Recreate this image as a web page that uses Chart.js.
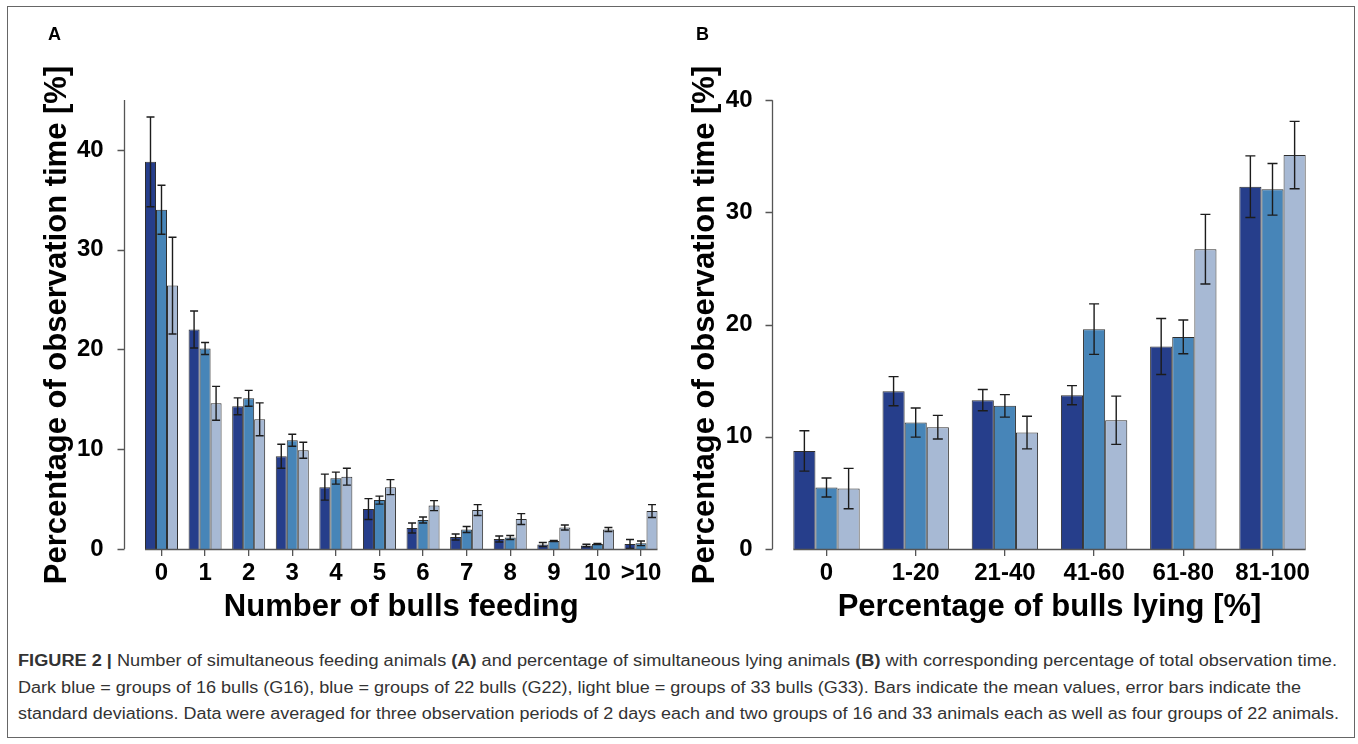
<!DOCTYPE html>
<html>
<head>
<meta charset="utf-8">
<title>Feeding and lying behaviour of bull groups</title>
<script src="https://cdn.jsdelivr.net/npm/chart.js@4.4.1/dist/chart.umd.min.js"></script>
<style>
  html, body { margin: 0; padding: 0; background: #fff; }
  body { width: 1358px; height: 744px; position: relative; overflow: hidden;
         font-family: "Liberation Sans", Arial, sans-serif; }
  .frame { position: absolute; left: 7px; top: 6px; width: 1348px; height: 732px;
           border: 1.5px solid #666; box-sizing: border-box; }
  canvas { position: absolute; top: 0; }
  #chartA { left: 0; }
  #chartB { left: 680px; }
  .tag { position: absolute; font: bold 18px/18px "Liberation Sans", Arial, sans-serif; color: #000; }
  .ytitle { position: absolute; font: bold 31px/31px "Liberation Sans", Arial, sans-serif; color: #000;
            white-space: nowrap; transform: translate(-50%, -50%) rotate(-90deg); }
  .caption { position: absolute; left: 18px; top: 648px; color: #333;
             font-family: "Liberation Sans Narrow", "Liberation Sans", Arial, sans-serif; font-size: 16px; }
  .cap-line { display: block; height: 26.5px; line-height: 26px; }
  .cap-line span { display: inline-block; white-space: nowrap; transform-origin: 0 50%; }
</style>
</head>
<body>
<div class="frame"></div>
<canvas id="chartA" width="680" height="640"></canvas>
<canvas id="chartB" width="678" height="640"></canvas>
<div class="tag" style="left:48px; top:25px;">A</div>
<div class="tag" style="left:696px; top:25px;">B</div>
<div class="ytitle" style="left:55px; top:324.5px;">Percentage of observation time [%]</div>
<div class="ytitle" style="left:702.5px; top:324.5px;">Percentage of observation time [%]</div>
<div class="caption">
  <div class="cap-line"><span data-w="1319"><b>FIGURE 2 |</b> Number of simultaneous feeding animals <b>(A)</b> and percentage of simultaneous lying animals <b>(B)</b> with corresponding percentage of total observation time.</span></div>
  <div class="cap-line"><span data-w="1283">Dark blue = groups of 16 bulls (G16), blue = groups of 22 bulls (G22), light blue = groups of 33 bulls (G33). Bars indicate the mean values, error bars indicate the</span></div>
  <div class="cap-line"><span data-w="1321">standard deviations. Data were averaged for three observation periods of 2 days each and two groups of 16 and 33 animals each as well as four groups of 22 animals.</span></div>
</div>
<script>
// ---- Panel A: number of bulls feeding simultaneously ----
const feedingCategories = ['0', '1', '2', '3', '4', '5', '6', '7', '8', '9', '10', '>10'];
const feedingG16   = [38.8, 22.0, 14.3, 9.3, 6.2, 4.0, 2.1, 1.2, 1.0, 0.45, 0.35, 0.5];
const feedingG16Sd = [4.5, 1.85, 0.85, 1.2, 1.3, 1.05, 0.5, 0.3, 0.3, 0.2, 0.12, 0.45];
const feedingG22   = [34.0, 20.1, 15.1, 10.9, 7.1, 4.9, 2.9, 1.95, 1.15, 0.8, 0.5, 0.57];
const feedingG22Sd = [2.45, 0.6, 0.8, 0.6, 0.6, 0.4, 0.3, 0.3, 0.2, 0.05, 0.05, 0.23];
const feedingG33   = [26.4, 14.6, 13.0, 9.9, 7.25, 6.2, 4.35, 3.9, 3.0, 2.15, 1.95, 3.8];
const feedingG33Sd = [4.85, 1.7, 1.65, 0.8, 0.85, 0.75, 0.5, 0.55, 0.55, 0.25, 0.2, 0.65];
const feedingYTicks = [0, 10, 20, 30, 40];

// ---- Panel B: percentage of bulls lying simultaneously ----
const lyingCategories = ['0', '1-20', '21-40', '41-60', '61-80', '81-100'];
const lyingG16   = [8.74, 14.07, 13.27, 13.71, 18.05, 32.3];
const lyingG16Sd = [1.8, 1.3, 0.95, 0.85, 2.5, 2.75];
const lyingG22   = [5.48, 11.27, 12.76, 19.6, 18.91, 32.06];
const lyingG22Sd = [0.85, 1.3, 1.0, 2.25, 1.5, 2.3];
const lyingG33   = [5.39, 10.86, 10.38, 11.48, 26.73, 35.12];
const lyingG33Sd = [1.8, 1.05, 1.45, 2.15, 3.1, 3.0];
const lyingYTicks = [0, 10, 20, 30, 40];

const groupNames = ['G16', 'G22', 'G33'];
const barColors = ['#263e8b', '#4785b8', '#a7b9d4'];
const axisGray = '#555';
const fontFamily = '"Liberation Sans", Arial, sans-serif';
const tickFont = { family: fontFamily, size: 24, weight: 'bold' };
const titleFont = { family: fontFamily, size: 31, weight: 'bold' };

// Detached y axis, x baseline spanning the bars, and SD error bars
const axisDecor = {
  id: 'axisDecor',
  afterDatasetsDraw(chart, args, opts) {
    const ctx = chart.ctx;
    const { left, top, bottom } = chart.chartArea;
    const y = chart.scales.y;
    ctx.save();
    ctx.lineCap = 'butt';

    // error bars (mean ± SD)
    ctx.strokeStyle = '#1c1c1c';
    ctx.lineWidth = 1.4;
    chart.data.datasets.forEach((ds, i) => {
      const meta = chart.getDatasetMeta(i);
      meta.data.forEach((bar, j) => {
        const v = ds.data[j], e = ds.errors[j];
        const x = bar.x;
        const yHi = y.getPixelForValue(v + e);
        const yLo = y.getPixelForValue(Math.max(v - e, 0));
        const cap = opts.cap;
        ctx.beginPath();
        ctx.moveTo(x, yHi); ctx.lineTo(x, yLo);
        ctx.moveTo(x - cap, yHi); ctx.lineTo(x + cap, yHi);
        ctx.moveTo(x - cap, yLo); ctx.lineTo(x + cap, yLo);
        ctx.stroke();
      });
    });

    // y axis line with outward ticks
    ctx.strokeStyle = axisGray;
    ctx.lineWidth = 1.3;
    const ax = Math.round(left - opts.gap) + 0.5;
    ctx.beginPath();
    ctx.moveTo(ax, top); ctx.lineTo(ax, bottom);
    y.ticks.forEach(t => {
      const py = Math.round(y.getPixelForValue(t.value)) + 0.5;
      ctx.moveTo(ax - 7, py); ctx.lineTo(ax, py);
    });
    // x baseline from the first bar to the last bar
    const first = chart.getDatasetMeta(0).data[0];
    const lastMeta = chart.getDatasetMeta(chart.data.datasets.length - 1);
    const last = lastMeta.data[lastMeta.data.length - 1];
    const by = Math.round(bottom) + 0.5;
    ctx.moveTo(first.x - first.width / 2, by);
    ctx.lineTo(last.x + last.width / 2, by);
    ctx.stroke();
    ctx.restore();
  }
};

function makeChart(id, labels, series, o) {
  return new Chart(document.getElementById(id), {
    type: 'bar',
    data: {
      labels: labels,
      datasets: series.map((s, i) => ({
        label: groupNames[i],
        data: s[0],
        errors: s[1],
        backgroundColor: barColors[i],
        borderColor: '#2e2e2e',
        borderWidth: 1,
        borderSkipped: 'start',
        barPercentage: 1,
        categoryPercentage: o.groupFrac
      }))
    },
    options: {
      responsive: false,
      animation: false,
      devicePixelRatio: 1,
      layout: { padding: { left: 0, top: o.top, right: o.right, bottom: 0 } },
      plugins: {
        legend: { display: false },
        tooltip: { enabled: false },
        axisDecor: { gap: o.gap, cap: o.cap }
      },
      scales: {
        x: {
          offset: true,
          grid: { display: true, drawOnChartArea: false, drawTicks: true, tickLength: 7,
                  color: axisGray, lineWidth: 1.3, offset: false },
          border: { display: false },
          ticks: { font: tickFont, color: '#000', padding: 3, maxRotation: 0, autoSkip: false },
          title: { display: true, text: o.xTitle, font: titleFont, color: '#000',
                   padding: { top: 0, bottom: 14 } },
          afterFit: s => { s.height = 91; }
        },
        y: {
          min: 0,
          max: o.yMax,
          grid: { display: false, drawTicks: false },
          border: { display: false },
          ticks: { font: tickFont, color: '#000', padding: o.labelPad },
          afterBuildTicks: s => { s.ticks = o.yTicks.map(v => ({ value: v })); },
          afterFit: s => { s.width = o.yWidth; }
        }
      }
    },
    plugins: [axisDecor]
  });
}

makeChart('chartA', feedingCategories,
  [[feedingG16, feedingG16Sd], [feedingG22, feedingG22Sd], [feedingG33, feedingG33Sd]],
  { xTitle: 'Number of bulls feeding', yMax: 45, yTicks: feedingYTicks, groupFrac: 0.757,
    top: 100, right: 17.2, yWidth: 139.7, gap: 15.7, labelPad: 36, cap: 4 });

makeChart('chartB', lyingCategories,
  [[lyingG16, lyingG16Sd], [lyingG22, lyingG22Sd], [lyingG33, lyingG33Sd]],
  { xTitle: 'Percentage of bulls lying [%]', yMax: 40, yTicks: lyingYTicks, groupFrac: 0.744,
    top: 100.3, right: 40.9, yWidth: 101.9, gap: 10.2, labelPad: 29.4, cap: 5 });

// fit each caption line to its column width
document.querySelectorAll('.cap-line span').forEach(el => {
  const target = parseFloat(el.dataset.w);
  const natural = el.getBoundingClientRect().width;
  if (natural > 0) el.style.transform = 'scaleX(' + (target / natural) + ')';
});
</script>
</body>
</html>
